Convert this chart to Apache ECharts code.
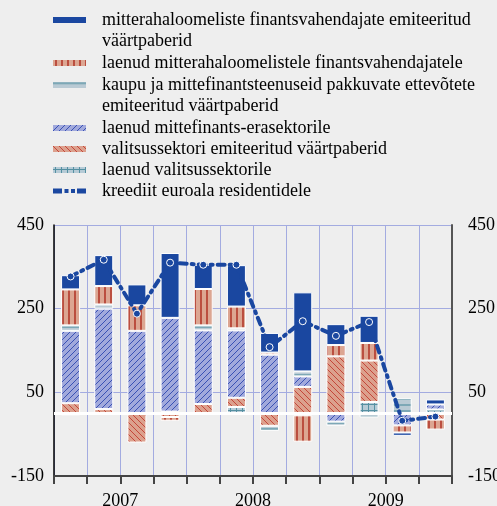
<!DOCTYPE html>
<html>
<head>
<meta charset="utf-8">
<script src="https://cdn.jsdelivr.net/npm/echarts@6/dist/echarts.min.js"></script>
<style>
html, body { margin: 0; padding: 0; background: #eeeeee; }
#chart { width: 497px; height: 506px; }
</style>
</head>
<body>
<div id="chart"></div>
<script>
// quarters 2007 I ... 2009 IV
var quarters = ['2007 I', '2007 II', '2007 III', '2007 IV', '2008 I', '2008 II', '2008 III', '2008 IV', '2009 I', '2009 II', '2009 III', '2009 IV'];
var years = ['2007', '2008', '2009'];
var yTicks = { min: -150, max: 450, step: 200 };

var govLoans = [-5, -4, 0, 4, 0, 15, 0, -5, 0, 27, 0, 9];
var govSecurities = [24, 10, -70, -9, 22, 22, -30, 63, 136, 99, 0, -15];
var nfcLoans = [173, 240, 197, 224, 176, 161, 140, 25, -20, 0, -29, 12];
var nfcSecurities = [13, 10, 0, 0, 12, 5, -12, 12, -10, -10, 36, 0];
var mfiLoans = [86, 44, 61, -9, 87, 52, 5, -63, 27, 42, -17, -24];
var mfiSecurities = [34, 74, 50, 155, 58, 99, 47, 189, 50, 65, -8, 12];
var credit = [327, 367, 238, 360, 355, 355, 158, 220, 185, 218, -18, -8];

var names = [
  'mitterahaloomeliste finantsvahendajate emiteeritud\nväärtpaberid',
  'laenud mitterahaloomelistele finantsvahendajatele',
  'kaupu ja mittefinantsteenuseid pakkuvate ettevõtete\nemiteeritud väärtpaberid',
  'laenud mittefinants-erasektorile',
  'valitsussektori emiteeritud väärtpaberid',
  'laenud valitsussektorile',
  'kreediit euroala residentidele'
];

// small canvas tiles for the hatched fills
function tile(bg, fg, kind) {
  var c = document.createElement('canvas');
  c.width = 6; c.height = 6;
  var g = c.getContext('2d');
  g.fillStyle = bg;
  g.fillRect(0, 0, 6, 6);
  g.strokeStyle = fg;
  g.beginPath();
  if (kind == 'up') {
    g.lineWidth = 1;
    g.moveTo(0, 6); g.lineTo(6, 0);
    g.moveTo(-1, 1); g.lineTo(1, -1);
    g.moveTo(5, 7); g.lineTo(7, 5);
  } else if (kind == 'down') {
    g.lineWidth = 1;
    g.moveTo(0, 0); g.lineTo(6, 6);
    g.moveTo(-1, 5); g.lineTo(1, 7);
    g.moveTo(5, -1); g.lineTo(7, 1);
  } else if (kind == 'vert') {
    g.lineWidth = 1.6;
    g.moveTo(3, 0); g.lineTo(3, 6);
  } else if (kind == 'horiz') {
    g.lineWidth = 1.2;
    g.moveTo(0, 3); g.lineTo(6, 3);
  } else if (kind == 'cross') {
    g.lineWidth = 1;
    g.moveTo(2.5, 0); g.lineTo(2.5, 6);
    g.moveTo(0, 2.5); g.lineTo(6, 2.5);
  }
  g.stroke();
  return { image: c, repeat: 'repeat' };
}

var fills = {
  mfiSec: '#1a47a0',
  mfiLoans: tile('#dca692', '#b3392b', 'vert'),
  nfcSec: tile('#b9cad4', '#5590a2', 'horiz'),
  nfcLoans: tile('#a1a9dc', '#3a52b4', 'up'),
  govSec: tile('#dca08d', '#c4473a', 'down'),
  govLoans: tile('#b6cbd6', '#5590a2', 'cross')
};

function clean(arr) {
  return arr.map(function (v) { return v === 0 ? '-' : v; });
}

function bar(name, data, color) {
  return {
    name: name,
    type: 'bar',
    stack: 'total',
    barWidth: 19,
    data: clean(data),
    itemStyle: { color: color, borderColor: '#ffffff', borderWidth: 1 },
    z: 2
  };
}

// one legend per row so wrapped names keep the icon on the first line
var legendTops = [20, 63, 85, 128, 149, 170, 191];
var twoLine = [true, false, true, false, false, false, false];
var LH = 21.4;
var legends = names.map(function (n, i) {
  var h = twoLine[i] ? LH * 2 : 6;
  var lg = {
    data: [n],
    left: 53,
    top: legendTops[i] - LH / 2,
    padding: 0,
    itemWidth: 33,
    itemHeight: h,
    selectedMode: false,
    itemStyle: { borderWidth: 0 },
    textStyle: {
      fontFamily: 'Liberation Serif',
      fontSize: 18,
      color: '#000',
      lineHeight: LH,
      padding: [0, 0, 0, 11]
    }
  };
  if (twoLine[i]) {
    var a = LH / 2 - 3, b = LH / 2 + 3, e = LH * 2;
    lg.data = [{ name: n, icon: 'path://M0,' + a + 'H33V' + b + 'H0Z M0,0H0.01V0.01H0Z M0,' + e + 'H0.01V' + (e - 0.01) + 'H0Z' }];
  } else if (i < 6) {
    lg.data = [{ name: n, icon: 'rect' }];
  } else {
    // dash - dot - dot - dash
    lg.itemHeight = 5;
    lg.data = [{ name: n, icon: 'path://M0,0H9V5H0Z M11.5,0.5H15.5V4.5H11.5Z M18,0.5H22V4.5H18Z M24,0H33V5H24Z' }];
  }
  return lg;
});

var myChart = echarts.init(document.getElementById('chart'));
myChart.setOption({
  backgroundColor: '#eeeeee',
  animation: false,
  legend: legends,
  grid: { left: 54, right: 45, top: 225, bottom: 30, outerBoundsMode: 'none' },
  xAxis: [{
    type: 'category',
    data: quarters,
    position: 'bottom',
    axisLine: { onZero: false, lineStyle: { color: '#444', width: 2 } },
    axisTick: { show: true, interval: 0, length: 8, lineStyle: { color: '#444', width: 2 } },
    axisLabel: { show: false },
    splitLine: { show: true, interval: 0, lineStyle: { color: '#a3abe0', width: 1 } }
  }, {
    type: 'category',
    data: years,
    position: 'bottom',
    axisLine: { show: false },
    axisTick: { show: false },
    axisLabel: { margin: 16, fontFamily: 'Liberation Serif', fontSize: 18, color: '#000' },
    splitLine: { show: false }
  }],
  yAxis: [{
    type: 'value',
    position: 'left',
    min: yTicks.min, max: yTicks.max, interval: yTicks.step,
    axisLine: { show: true, lineStyle: { color: '#000', width: 1.5 } },
    axisTick: { show: false },
    axisLabel: { margin: 10, fontFamily: 'Liberation Serif', fontSize: 18, color: '#000' },
    splitLine: { show: true, lineStyle: { color: '#a3abe0', width: 1 } }
  }, {
    type: 'value',
    position: 'right',
    min: yTicks.min, max: yTicks.max, interval: yTicks.step,
    axisLine: { show: true, lineStyle: { color: '#555', width: 2 } },
    axisTick: { show: false },
    axisLabel: { margin: 16, fontFamily: 'Liberation Serif', fontSize: 18, color: '#000' },
    splitLine: { show: false }
  }],
  series: [
    bar(names[5], govLoans, fills.govLoans),
    bar(names[4], govSecurities, fills.govSec),
    bar(names[3], nfcLoans, fills.nfcLoans),
    bar(names[2], nfcSecurities, fills.nfcSec),
    bar(names[1], mfiLoans, fills.mfiLoans),
    bar(names[0], mfiSecurities, fills.mfiSec),
    {
      name: names[6],
      type: 'line',
      data: credit,
      z: 5,
      color: '#1a47a0',
      symbol: 'circle',
      symbolSize: 7,
      itemStyle: { color: '#1a47a0', borderColor: '#ffffff', borderWidth: 1 },
      lineStyle: { color: '#1a47a0', width: 4, type: [7, 5, 2, 5], cap: 'round' },
      markLine: {
        silent: true,
        symbol: 'none',
        label: { show: false },
        lineStyle: { color: '#ffffff', width: 3, type: 'solid' },
        data: [{ yAxis: 0 }]
      }
    }
  ]
});
</script>
</body>
</html>
